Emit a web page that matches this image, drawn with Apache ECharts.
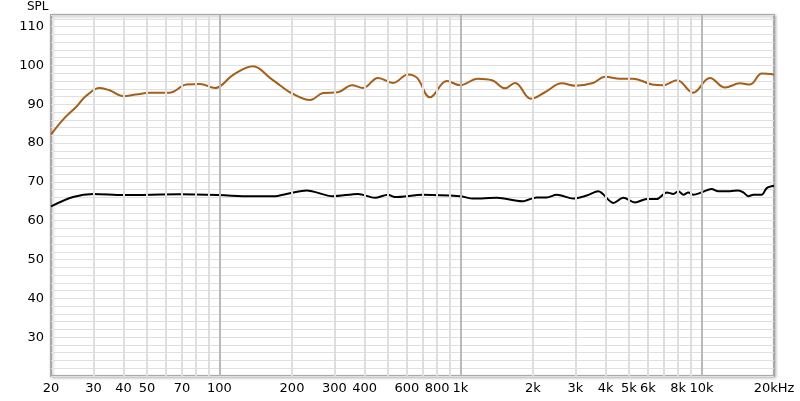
<!DOCTYPE html>
<html>
<head>
<meta charset="utf-8">
<script src="https://cdn.jsdelivr.net/npm/echarts@6/dist/echarts.min.js"></script>
<style>
html,body{margin:0;padding:0;background:#fff;}
#c{width:800px;height:401px;}
</style>
</head>
<body>
<div id="c"></div>
<script>
// Upper (brown) curve
const brownFreq = [20,22.4,25.6,28,31.9,35,39.8,45,51.5,62.3,73,83,96,114,138,162,180,196,238,269,310,355,394,455,525,606,661,748,879,996,1182,1352,1531,1684,1962,2242,2638,2988,3548,3980,4592,5200,6234,6920,7920,9226,10840,12530,14450,15900,17820,20000];
const brownSpl  = [82.2,86,89.5,92.2,94.2,93.6,92.1,92.5,93,93,95.1,95.2,94.2,97.6,99.8,96.8,94.7,93.1,91.1,92.9,93.1,94.9,94.2,96.8,95.5,97.7,96.8,91.8,96,94.9,96.6,96.2,94.1,95.5,91.4,93.1,95.4,94.8,95.5,97.1,96.6,96.6,95.1,94.9,96.2,93,96.8,94.3,95.4,95.1,97.9,97.7];
// Lower (black) curve
const blackFreq = [20,24.7,30,39.8,68.6,100,134,167,196,230,296,376,442,500,535,699,996,1128,1418,1800,2070,2280,2508,2940,3340,3732,4308,4742,5300,5930,6520,7180,7640,8020,8420,8820,9240,10020,11020,11740,13140,14220,14920,15640,16420,17780,18660,20000];
const blackSpl  = [63.7,66.1,66.9,66.6,66.8,66.6,66.3,66.3,67.1,67.8,66.3,66.9,65.9,66.7,66.1,66.7,66.3,65.7,65.9,65,66,66,66.7,65.7,66.5,67.6,64.6,65.9,64.7,65.6,65.6,67.3,66.9,67.6,66.7,67.3,66.7,67.3,68.2,67.6,67.6,67.8,67.3,66.3,66.7,66.7,68.4,69];
// Axis labels
const xLabelValues = [20,30,40,50,70,100,200,300,400,600,800,1000,2000,3000,4000,5000,6000,8000,10000,20000];
const xLabelTexts  = ['20','30','40','50','70','100','200','300','400','600','800','1k','2k','3k','4k','5k','6k','8k','10k','20kHz'];
const minorGridFreqs = [30,40,50,60,70,80,90,200,300,400,500,600,700,800,900,2000,3000,4000,5000,6000,7000,8000,9000];
const majorGridFreqs = [100,1000,10000];
const yLabelValues = [30,40,50,60,70,80,90,100,110];

const pair = (f, s) => f.map((v, i) => [v, s[i]]);
const labelMap = {};
xLabelValues.forEach((v, i) => labelMap[v] = xLabelTexts[i]);

const chart = echarts.init(document.getElementById('c'), null, {renderer: 'canvas'});
const font = 'DejaVu Sans';
chart.setOption({
  animation: false,
  backgroundColor: '#fff',
  title: {
    text: 'SPL', left: 27, top: 1, padding: 0,
    textStyle: {fontFamily: font, fontSize: 12, fontWeight: 'normal', color: '#000'}
  },
  grid: {
    left: 51, right: 26, top: 15, bottom: 25,
    show: true, backgroundColor: '#fff',
    borderColor: '#a8a8a8', borderWidth: 2,
    shadowColor: 'rgba(0,0,0,0.25)', shadowBlur: 3, shadowOffsetX: 1, shadowOffsetY: 1
  },
  xAxis: {
    type: 'log', logBase: 10, min: 20, max: 20000,
    axisLine: {show: false}, axisTick: {show: false},
    splitLine: {show: false},
    axisLabel: {
      customValues: xLabelValues,
      formatter: v => labelMap[Math.round(v)] || '',
      fontFamily: font, fontSize: 13, color: '#000', margin: 6,
      showMinLabel: true, showMaxLabel: true, hideOverlap: false
    }
  },
  yAxis: {
    type: 'value', min: 20, max: 113, interval: 2,
    axisLine: {show: false}, axisTick: {show: false},
    splitLine: {show: true, lineStyle: {color: '#e0e0e0', width: 1}},
    axisLabel: {
      formatter: v => (yLabelValues.indexOf(v) >= 0 ? String(v) : ''),
      fontFamily: font, fontSize: 13, color: '#000', margin: 7,
      showMinLabel: false, showMaxLabel: false
    }
  },
  series: [
    {
      type: 'line', data: [], silent: true, z: 1,
      markLine: {
        silent: true, symbol: 'none', animation: false,
        label: {show: false},
        data: minorGridFreqs.map(f => ({xAxis: f, lineStyle: {color: '#dedede', width: 2, type: 'solid'}}))
          .concat(majorGridFreqs.map(f => ({xAxis: f, lineStyle: {color: '#b9b9b9', width: 2, type: 'solid'}})))
      }
    },
    {
      type: 'line', data: pair(brownFreq, brownSpl), smooth: 0.4, showSymbol: false, z: 3,
      lineStyle: {color: '#a65e18', width: 2}
    },
    {
      type: 'line', data: pair(blackFreq, blackSpl), smooth: 0.3, showSymbol: false, z: 3,
      lineStyle: {color: '#000', width: 2}
    }
  ]
});
</script>
</body>
</html>
